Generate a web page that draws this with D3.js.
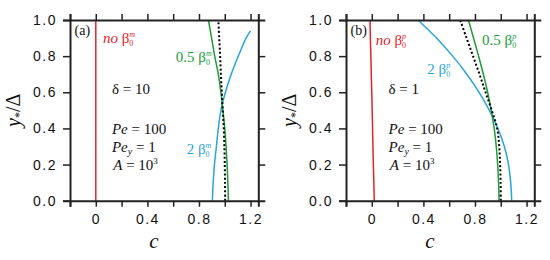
<!DOCTYPE html>
<html><head><meta charset="utf-8">
<script src="https://cdn.jsdelivr.net/npm/d3@7"></script>
<style>
body{margin:0;background:#fff;}
svg{display:block;}
</style></head>
<body>
<svg id="chart" width="550" height="260"></svg>
<script>
// ---- data ----
const yLevels = [0, 0.1, 0.2, 0.3, 0.4, 0.5, 0.6, 0.7, 0.8, 0.9, 1.0];
const xTicks = [-0.2, 0, 0.2, 0.4, 0.6, 0.8, 1.0, 1.2];
const xTickLabels = [0, 0.4, 0.8, 1.2];
const yTicks = [0, 0.2, 0.4, 0.6, 0.8, 1.0];

// panel (a): delta = 10
const aNone  = [0, 0, 0, 0, 0, 0, 0, 0, 0, 0, 0];
const aHalf  = [1.028, 1.024, 1.018, 1.01, 1.0, 0.986, 0.97, 0.95, 0.922, 0.898, 0.873];
const aExact = [1.003, 1.002, 1.0, 0.997, 0.992, 0.984, 0.977, 0.97, 0.964, 0.957, 0.95];
const aTwoY  = [0, 0.1, 0.2, 0.3, 0.4, 0.5, 0.6, 0.7, 0.8, 0.9, 0.94];
const aTwo   = [0.904, 0.91, 0.92, 0.935, 0.95, 0.97, 1.005, 1.05, 1.105, 1.165, 1.2];

// panel (b): delta = 1
const bNone  = [0.019, 0.016, 0.012, 0.009, 0.006, 0.003, 0.0, -0.004, -0.007, -0.011, -0.014];
const bHalf  = [0.987, 0.983, 0.976, 0.965, 0.949, 0.926, 0.898, 0.865, 0.828, 0.789, 0.749];
const bExact = [1.0, 0.999, 0.995, 0.988, 0.972, 0.93, 0.882, 0.835, 0.785, 0.735, 0.685];
const bTwo   = [1.085, 1.077, 1.06, 1.028, 0.978, 0.912, 0.832, 0.737, 0.627, 0.502, 0.358];

const colors = {none: "#e8212b", half: "#1c9c3a", two: "#2ba3df", exact: "#000"};

const svg = d3.select("#chart");
const sans = "\"Liberation Sans\"";
const serif = "\"Liberation Serif\"";

function panel(x0, opts) {
  const x = d3.scaleLinear().domain([-0.2, 1.26]).range([x0, x0 + 188.3]);
  const y = d3.scaleLinear().domain([0, 1]).range([200.7, 20]);
  const g = svg.append("g");

  const line = d3.line().x(d => x(d[0])).y(d => y(d[1])).curve(d3.curveCatmullRom.alpha(0.5));
  const series = [
    {c: opts.none, y: yLevels, color: colors.none, dash: null},
    {c: opts.two, y: opts.twoY || yLevels, color: colors.two, dash: null},
    {c: opts.half, y: yLevels, color: colors.half, dash: null},
    {c: opts.exact, y: yLevels, color: colors.exact, dash: "2,2.2"}
  ];
  series.forEach(s => {
    g.append("path")
      .datum(s.c.map((c, i) => [c, s.y[i]]))
      .attr("d", line)
      .attr("fill", "none")
      .attr("stroke", s.color)
      .attr("stroke-width", s.dash ? 2 : 1.5)
      .attr("stroke-dasharray", s.dash);
  });

  // axes
  const bottom = d3.axisBottom(x).tickValues(xTicks).tickSize(6)
    .tickFormat(d => xTickLabels.some(v => Math.abs(v - d) < 1e-9) ? d3.format("")(+d.toFixed(1)) : "");
  const top = d3.axisTop(x).tickValues(xTicks).tickSize(6).tickFormat("");
  const left = d3.axisLeft(y).tickValues(yTicks).tickSize(7).tickFormat(d3.format(".1f"));
  const right = d3.axisRight(y).tickValues(yTicks.slice(1, -1)).tickSize(7).tickFormat("");

  const gb = g.append("g").attr("transform", "translate(0,200.7)").call(bottom);
  const gt = g.append("g").attr("transform", "translate(0,20)").call(top);
  const gl = g.append("g").attr("transform", `translate(${x0},0)`).call(left);
  const gr = g.append("g").attr("transform", `translate(${x0 + 188.3},0)`).call(right);
  [gb, gt, gl, gr].forEach(a => {
    a.attr("font-family", null);
    a.select(".domain").attr("stroke", "#222").attr("stroke-width", 2);
    a.selectAll(".tick line").attr("stroke", "#222").attr("stroke-width", 1.5);
    a.selectAll("text").attr("fill", "#111").style("font-family", sans)
      .style("font-size", "14px").style("letter-spacing", "1.5px");
  });
  gb.selectAll("text").attr("dy", "1.05em");
  gl.selectAll("text").attr("x", -13);

  // axis titles
  g.append("text").style("font-family", serif).attr("x", x(0.45)).attr("y", 248).attr("text-anchor", "middle")
    .style("font-style", "italic").style("font-size", "21px")
    .attr("fill", "#111").text("c");
  const yt = g.append("text").style("font-family", serif)
    .attr("transform", `translate(${x0 - 50},${y(0.5)}) rotate(-90)`)
    .attr("text-anchor", "middle")
    .style("font-size", "20px").attr("fill", "#111");
  yt.append("tspan").style("font-style", "italic").text("y");
  yt.append("tspan").attr("dy", 3).style("font-size", "12px").text("*");
  yt.append("tspan").attr("dy", -3).text("/Δ");

  // annotations
  function txt(cx, cy, color, size) {
    return g.append("text").style("font-family", serif).attr("x", x(cx)).attr("y", y(cy)).attr("fill", color)
      .style("font-size", (size || 13) + "px");
  }
  function beta(t, sup) {
    t.append("tspan").text("β");
    t.append("tspan").attr("dy", 3).style("font-size", "8px").text("0");
    t.append("tspan").attr("dx", -4).attr("dy", -9).style("font-size", "8px")
      .style("font-style", "italic").text(sup);
  }
  txt(-0.165, 0.917, "#111", 14).text(opts.tag);

  const tn = txt(opts.nonePos[0], opts.nonePos[1], colors.none, 15);
  tn.append("tspan").style("font-style", "italic").text("no ");
  beta(tn, opts.sup);

  const th = txt(opts.halfPos[0], opts.halfPos[1], colors.half, 15);
  th.append("tspan").text("0.5 ");
  beta(th, opts.sup);

  const t2 = txt(opts.twoPos[0], opts.twoPos[1], colors.two, 15);
  t2.append("tspan").text("2 ");
  beta(t2, opts.sup);

  txt(opts.params[0], 0.59, "#111", 15).text(opts.delta);
  const p1 = txt(opts.params[0], 0.368, "#111", 15);
  p1.append("tspan").style("font-style", "italic").text("Pe");
  p1.append("tspan").text(" = 100");
  const p2 = txt(opts.params[0], 0.27, "#111", 15);
  p2.append("tspan").style("font-style", "italic").text("Pe");
  p2.append("tspan").attr("dy", 3).style("font-size", "10px").style("font-style", "italic").text("y");
  p2.append("tspan").attr("dy", -3).text(" = 1");
  const p3 = txt(opts.params[0] + 0.01, 0.17, "#111", 15);
  p3.append("tspan").style("font-style", "italic").text("A");
  p3.append("tspan").text(" = 10");
  p3.append("tspan").attr("dy", -6).style("font-size", "9px").text("3");
}

panel(70, {
  none: aNone, half: aHalf, exact: aExact, two: aTwo, twoY: aTwoY,
  tag: "(a)", sup: "m", delta: "δ = 10",
  nonePos: [0.055, 0.87], halfPos: [0.62, 0.765], twoPos: [0.705, 0.26],
  params: [0.125]
});
panel(346, {
  none: bNone, half: bHalf, exact: bExact, two: bTwo,
  tag: "(b)", sup: "p", delta: "δ = 1",
  nonePos: [0.03, 0.86], halfPos: [0.855, 0.86], twoPos: [0.43, 0.7],
  params: [0.13]
});
</script>
</body></html>
